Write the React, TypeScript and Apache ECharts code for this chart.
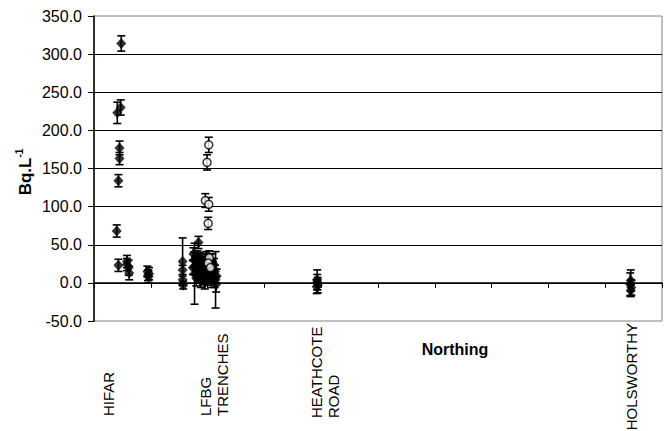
import React, { useEffect, useRef } from "react";
import * as echarts from "echarts";

// Y axis ticks
const yTicks = [-50, 0, 50, 100, 150, 200, 250, 300, 350];

// Site labels (x axis categories drawn as text)
const siteLabels = ["HIFAR", "LFBG\nTRENCHES", "HEATHCOTE\nROAD", "HOLSWORTHY"];

// Filled diamond series: northing, value (Bq/L), error
const diamondX = [
  0.48, 0.41, 0.47, 0.45, 0.45, 0.43, 0.40, 0.43, 0.58, 0.58, 0.61, 0.62, 0.94, 0.95, 0.97, 0.96,
  1.56, 1.56, 1.56, 1.57, 1.84, 1.75, 1.76, 1.78, 1.77, 1.80, 1.82, 1.85, 1.87, 1.88, 1.90, 1.92,
  1.93, 1.95, 1.97, 2.00, 2.03, 2.05, 2.07, 2.10, 2.12, 2.14, 2.15, 2.13, 2.08, 1.98,
  1.74, 1.79, 1.81, 1.83, 1.86, 1.89, 1.91, 1.94, 1.96, 1.99, 2.04, 2.06, 2.09, 2.11, 2.16,
  3.93, 3.93, 3.94, 3.92,
  9.45, 9.44, 9.46, 9.45,
];
const diamondY = [
  314, 223, 230, 177, 163, 134, 68, 23, 28, 24, 20, 13, 15, 10, 12, 8,
  28, 17, 4, -3, 53, 38, 30, 22, 12, 6, 35, 25, 15, 2, 30, 18,
  8, 0, 12, 5, 22, 14, 3, 10, 6, 4, -2, 15, 28, 35,
  20, 28, 16, 9, 32, 20, 12, 26, 16, 24, 30, 8, 18, 24, 9,
  4, 1, -3, -5,
  3, -2, -6, -10,
];
const diamondErr = [
  10, 14, 10, 9, 8, 8, 8, 8, 8, 8, 10, 9, 7, 7, 8, 8,
  31, 6, 5, 5, 8, 8, 10, 12, 40, 10, 7, 10, 9, 8, 8, 10,
  9, 8, 10, 8, 9, 8, 9, 10, 12, 37, 10, 8, 10, 6,
  9, 8, 10, 9, 8, 10, 9, 8, 10, 9, 8, 9, 10, 8, 9,
  13, 10, 10, 9,
  14, 15, 10, 8,
];

// Open circle series: northing, value, error
const circleX = [2.02, 1.99, 1.96, 2.02, 2.01, 2.03, 2.01, 2.05];
const circleY = [181, 158, 108, 103, 78, 33, 26, 20];
const circleErr = [10, 10, 9, 9, 8, 9, 8, 8];

const FONT = '"Liberation Sans", Arial, sans-serif';

function errorBarRender(params: any, api: any) {
  const x = api.value(0);
  const y = api.value(1);
  const e = api.value(2);
  const top = api.coord([x, y + e]);
  const bot = api.coord([x, y - e]);
  const hw = 4;
  const st = { stroke: "#000", lineWidth: 1.6 };
  return {
    type: "group",
    children: [
      { type: "line", shape: { x1: top[0], y1: top[1], x2: bot[0], y2: bot[1] }, style: st },
      { type: "line", shape: { x1: top[0] - hw, y1: top[1], x2: top[0] + hw, y2: top[1] }, style: st },
      { type: "line", shape: { x1: bot[0] - hw, y1: bot[1], x2: bot[0] + hw, y2: bot[1] }, style: st },
    ],
  };
}

export default function App() {
  const ref = useRef<HTMLDivElement>(null);
  useEffect(() => {
    document.body.style.margin = "0";
    if (!ref.current) return;
    const chart = echarts.init(ref.current, undefined, { renderer: "svg" });
    const diamonds = diamondX.map((x, i) => [x, diamondY[i], diamondErr[i]]);
    const circles = circleX.map((x, i) => [x, circleY[i], circleErr[i]]);
    const labelPos = [
      { x: 108, y: 416 },
      { x: 214, y: 416 },
      { x: 325, y: 418 },
      { x: 631, y: 323, top: true },
    ];
    chart.setOption({
      animation: false,
      backgroundColor: "#fff",
      grid: {
        left: 94,
        right: 3,
        top: 16,
        bottom: 110,
        show: true,
        borderColor: "#808080",
        borderWidth: 1,
      },
      xAxis: {
        type: "value",
        min: 0,
        max: 10,
        interval: 1,
        axisLine: { onZero: true, lineStyle: { color: "#000", width: 1.5 } },
        axisTick: { show: true, length: 5, lineStyle: { color: "#000", width: 1 } },
        axisLabel: { show: false },
        splitLine: { show: false },
      },
      yAxis: {
        type: "value",
        min: yTicks[0],
        max: yTicks[yTicks.length - 1],
        interval: 50,
        axisLine: { show: true, lineStyle: { color: "#000", width: 1.5 } },
        axisTick: { show: true, length: 6, lineStyle: { color: "#000" } },
        axisLabel: {
          margin: 12,
          fontFamily: FONT,
          fontSize: 16,
          color: "#000",
          formatter: (v: number) => v.toFixed(1),
        },
        splitLine: { show: true, showMinLine: false, showMaxLine: false, lineStyle: { color: "#000", width: 1 } },
      },
      graphic: [
        {
          type: "text",
          x: 25,
          y: 172,
          rotation: Math.PI / 2,
          style: {
            text: "{b|Bq.L}{s|-1}",
            align: "center",
            verticalAlign: "middle",
            rich: {
              b: { fontFamily: FONT, fontWeight: "bold", fontSize: 17, fill: "#000", lineHeight: 22 },
              s: { fontFamily: FONT, fontWeight: "bold", fontSize: 10, fill: "#000", verticalAlign: "top", lineHeight: 22, padding: [0, 0, 10, 0] },
            },
          },
        },
        ...siteLabels.map((t, i) => ({
          type: "text",
          x: labelPos[i].x,
          y: labelPos[i].y,
          rotation: Math.PI / 2,
          style: {
            text: t,
            fontFamily: FONT,
            fontSize: 15,
            lineHeight: 17,
            fill: "#000",
            align: (labelPos[i] as any).top ? "right" : "left",
            verticalAlign: "middle",
          },
        })),
        {
          type: "text",
          x: 455,
          y: 349,
          style: {
            text: "Northing",
            fontFamily: FONT,
            fontSize: 16,
            fontWeight: "bold",
            fill: "#000",
            align: "center",
            verticalAlign: "middle",
          },
        },
      ],
      series: [
        {
          type: "custom",
          renderItem: errorBarRender,
          data: diamonds,
          encode: { x: 0, y: 1 },
          z: 2,
        },
        {
          type: "custom",
          renderItem: errorBarRender,
          data: circles,
          encode: { x: 0, y: 1 },
          z: 2,
        },
        {
          type: "scatter",
          data: diamonds,
          symbol: "diamond",
          symbolSize: [10, 11],
          itemStyle: { color: "#000" },
          z: 3,
        },
        {
          type: "scatter",
          data: circles,
          symbol: "circle",
          symbolSize: 8,
          itemStyle: { color: "#fff", borderColor: "#000", borderWidth: 1.5 },
          z: 4,
        },
      ],
    });
    return () => chart.dispose();
  }, []);
  return <div ref={ref} style={{ width: 665, height: 431 }} />;
}
